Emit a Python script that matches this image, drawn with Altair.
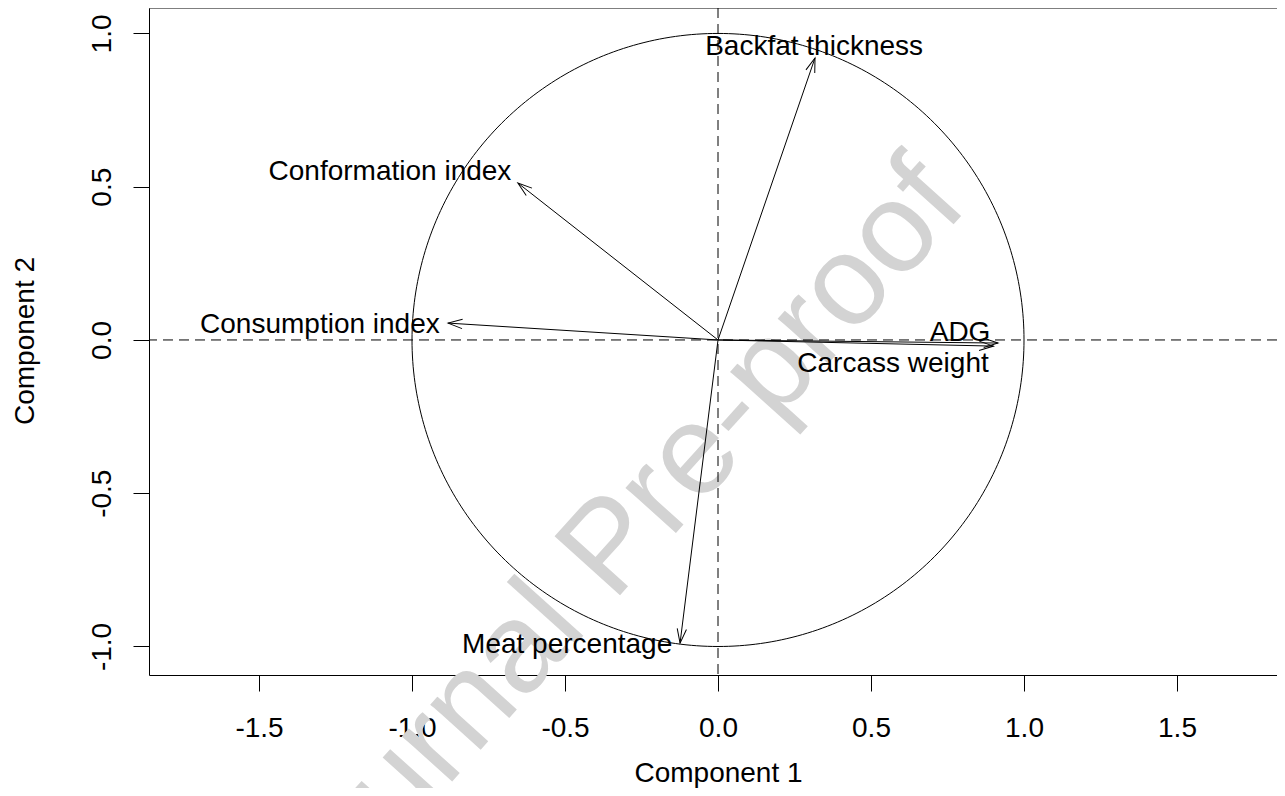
import altair as alt
import pandas as pd

FONT = "Liberation Sans"

# ---- data ----
variables = ["Backfat thickness", "Conformation index", "Consumption index",
             "ADG", "Carcass weight", "Meat percentage"]
comp1 = [0.317, -0.654, -0.882, 0.915, 0.900, -0.124]      # arrow tips, Component 1
comp2 = [0.920, 0.512, 0.055, -0.010, -0.020, -0.989]      # arrow tips, Component 2
label_x = [0.314, -1.072, -1.301, 0.791, 0.572, -0.493]    # label anchors
label_y = [0.930, 0.522, 0.023, -0.003, -0.104, -1.021]

x_ticks = [-1.5, -1.0, -0.5, 0.0, 0.5, 1.0, 1.5]
y_ticks = [-1.0, -0.5, 0.0, 0.5, 1.0]
x_domain = [-1.8595, 1.8268]
y_domain = [-1.093, 1.083]

watermark_text = ["Journal Pre-proof"]
watermark_x = [-0.258]
watermark_y = [-0.763]

# ---- tables ----
arrows = pd.DataFrame({
    "variable": variables,
    "x0": [0.0] * len(variables),
    "y0": [0.0] * len(variables),
    "c1": comp1,
    "c2": comp2,
})
labels = pd.DataFrame({"variable": variables, "lx": label_x, "ly": label_y})
wm = pd.DataFrame({"t": watermark_text, "wx": watermark_x, "wy": watermark_y})

xs = alt.Scale(domain=x_domain, nice=False, zero=False)
ys = alt.Scale(domain=y_domain, nice=False, zero=False)

label_expr = "datum.value < 0 ? '-' + format(-datum.value, '.1f') : format(datum.value, '.1f')"

x_axis = alt.Axis(
    values=x_ticks, grid=False, tickSize=16, tickColor="black", tickWidth=1,
    domainColor="black", domainWidth=1, labelFont=FONT, labelFontSize=28,
    labelColor="black", labelPadding=23, labelBaseline="top",
    labelExpr=label_expr, labelFlush=False, labelOverlap=False,
    title="Component 1", titleFont=FONT, titleFontSize=28, titleFontWeight="normal",
    titleColor="black", titleX=569, titleY=106, titleBaseline="alphabetic",
    titleAlign="center",
)
y_axis = alt.Axis(
    values=y_ticks, grid=False, tickSize=16, tickColor="black", tickWidth=1,
    domainColor="black", domainWidth=1, labelFont=FONT, labelFontSize=28,
    labelColor="black", labelPadding=23, labelAngle=270, labelAlign="center",
    labelBaseline="alphabetic", labelExpr=label_expr, labelFlush=False,
    labelOverlap=False,
    title="Component 2", titleFont=FONT, titleFontSize=28, titleFontWeight="normal",
    titleColor="black", titleAngle=270, titleX=-116, titleY=332.5,
    titleBaseline="alphabetic", titleAlign="center",
)

watermark = alt.Chart(wm).mark_text(
    font=FONT, fontSize=128, angle=312, color="#d3d3d3",
    align="center", baseline="alphabetic"
).encode(
    x=alt.X("wx:Q", scale=xs, axis=x_axis),
    y=alt.Y("wy:Q", scale=ys, axis=y_axis),
    text="t:N",
)

circle = alt.Chart(alt.sequence(0, 361, 1, as_="deg")).transform_calculate(
    cx="cos(datum.deg * PI / 180)", cy="sin(datum.deg * PI / 180)"
).mark_line(color="black", strokeWidth=1).encode(
    x=alt.X("cx:Q", scale=xs),
    y=alt.Y("cy:Q", scale=ys),
    order="deg:Q",
)

hline = alt.Chart(wm).mark_rule(color="black", strokeWidth=1, strokeDash=[10, 6]).encode(
    y=alt.datum(0, scale=ys)
)
vline = alt.Chart(wm).mark_rule(color="black", strokeWidth=1, strokeDash=[10, 6]).encode(
    x=alt.datum(0, scale=xs)
)
# top edge of the frame box
top_edge = alt.Chart(wm).mark_rule(color="black", strokeWidth=1).encode(
    y=alt.value(0)
)

shafts = alt.Chart(arrows).mark_rule(color="black", strokeWidth=1).encode(
    x=alt.X("x0:Q", scale=xs),
    y=alt.Y("y0:Q", scale=ys),
    x2="c1:Q",
    y2="c2:Q",
)

heads = alt.Chart(arrows).transform_calculate(
    ang="(atan2(datum.c1, datum.c2) * 180 / PI + 360) % 360"
).mark_point(
    shape="M -0.31 0.95 L 0 0 L 0.31 0.95", size=900, filled=False,
    color="black", strokeWidth=1, opacity=1
).encode(
    x=alt.X("c1:Q", scale=xs),
    y=alt.Y("c2:Q", scale=ys),
    angle=alt.Angle("ang:Q", scale=None),
)

texts = alt.Chart(labels).mark_text(
    font=FONT, fontSize=28, align="center", baseline="alphabetic", color="black"
).encode(
    x=alt.X("lx:Q", scale=xs),
    y=alt.Y("ly:Q", scale=ys),
    text="variable:N",
)

chart = alt.layer(watermark, circle, hline, vline, top_edge, shafts, heads, texts).properties(
    width=1128, height=667,
    autosize=alt.AutoSizeParams(type="none"),
    padding={"left": 141, "top": 0, "right": 0, "bottom": 113},
    background="white",
).configure_view(stroke="transparent")

chart.save("out.html", embed_options={"renderer": "svg", "actions": False})
